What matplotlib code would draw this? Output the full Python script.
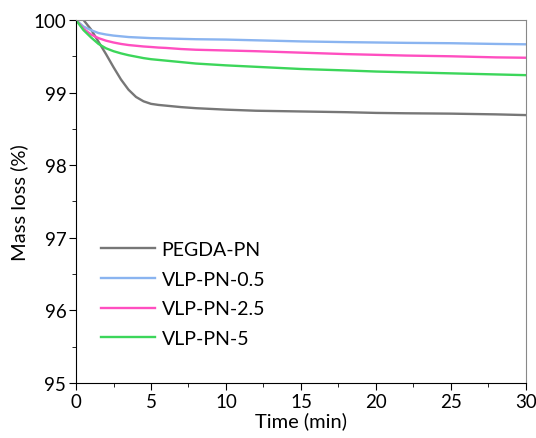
import matplotlib
matplotlib.use("Agg")
import matplotlib.pyplot as plt
from matplotlib.ticker import MultipleLocator

plt.rcParams['font.family'] = ['Lato', 'DejaVu Sans']

time = [0, 0.5, 1, 1.5, 2, 2.5, 3, 3.5, 4, 4.5, 5, 5.5, 6, 7, 8, 10, 12, 15, 18, 20, 22, 25, 28, 30]
pegda_pn = [100.05, 100.0, 99.87, 99.70, 99.53, 99.35, 99.18, 99.04, 98.94, 98.88, 98.845, 98.83, 98.82,
            98.80, 98.785, 98.765, 98.75, 98.74, 98.73, 98.72, 98.715, 98.71, 98.70, 98.69]
vlp_05 = [100.0, 99.91, 99.86, 99.82, 99.80, 99.785, 99.775, 99.765, 99.76, 99.755, 99.75, 99.748, 99.745,
          99.74, 99.735, 99.73, 99.72, 99.705, 99.695, 99.69, 99.685, 99.68, 99.67, 99.665]
vlp_25 = [100.0, 99.88, 99.80, 99.75, 99.715, 99.69, 99.67, 99.655, 99.645, 99.635, 99.628, 99.62, 99.615,
          99.60, 99.59, 99.58, 99.57, 99.55, 99.53, 99.52, 99.51, 99.50, 99.485, 99.48]
vlp_5 = [100.0, 99.86, 99.76, 99.67, 99.61, 99.57, 99.54, 99.515, 99.495, 99.475, 99.46, 99.45, 99.44,
         99.42, 99.40, 99.375, 99.355, 99.325, 99.305, 99.29, 99.28, 99.265, 99.25, 99.24]

series = [
    ("PEGDA-PN", pegda_pn, "#777777"),
    ("VLP-PN-0.5", vlp_05, "#8ab4f0"),
    ("VLP-PN-2.5", vlp_25, "#ff4fc0"),
    ("VLP-PN-5", vlp_5, "#3cd65a"),
]

fig = plt.figure(figsize=(5.36, 4.39), dpi=100)
ax = fig.add_axes([0.1418, 0.1253, 0.8395, 0.8269])

for label, values, color in series:
    ax.plot(time, values, color=color, lw=1.7, label=label)

ax.set_xlim(0, 30)
ax.set_ylim(95, 100)
ax.xaxis.set_major_locator(MultipleLocator(5))
ax.xaxis.set_minor_locator(MultipleLocator(2.5))
ax.yaxis.set_major_locator(MultipleLocator(1))
ax.yaxis.set_minor_locator(MultipleLocator(0.5))
ax.tick_params(which="both", direction="out", top=False, right=False, labelsize=13.5)
ax.tick_params(which="major", length=5, pad=2)
ax.tick_params(which="minor", length=3)

for side in ["top", "right"]:
    ax.spines[side].set_color("#888888")
for side in ["left", "bottom"]:
    ax.spines[side].set_color("black")

ax.set_xlabel("Time (min)", fontsize=14.5, labelpad=1)
ax.set_ylabel("Mass loss (%)", fontsize=14.5, labelpad=4)

ax.legend(loc="upper left", bbox_to_anchor=(0.017, 0.44), frameon=False, fontsize=14,
          handlelength=2.75, labelspacing=0.66, handletextpad=0.36)

fig.savefig("out.png", dpi=100)
